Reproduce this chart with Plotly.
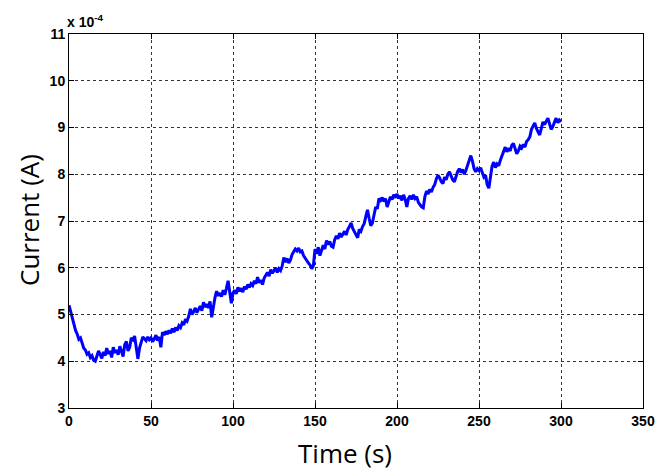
import plotly.graph_objects as go

# Time in seconds (1 s sampling)
time_s = list(range(0, 301))

# Current in units of 1e-4 A
current_e4 = [
    5.20, 5.05, 4.92, 4.78, 4.66, 4.58, 4.47, 4.50, 4.36, 4.28,
    4.24, 4.15, 4.18, 4.08, 4.12, 4.02, 4.00, 4.10, 4.22, 4.14,
    4.06, 4.20, 4.12, 4.28, 4.16, 4.22, 4.08, 4.30, 4.18, 4.24,
    4.14, 4.32, 4.20, 4.10, 4.36, 4.42, 4.22, 4.30, 4.50, 4.46,
    4.54, 4.30, 4.05, 4.28, 4.40, 4.52, 4.48, 4.44, 4.52, 4.46,
    4.50, 4.42, 4.48, 4.56, 4.44, 4.52, 4.30, 4.62, 4.56, 4.64,
    4.58, 4.66, 4.60, 4.70, 4.62, 4.72, 4.66, 4.76, 4.72, 4.82,
    4.78, 4.90, 4.86, 4.96, 5.12, 5.00, 5.06, 5.14, 5.04, 5.10,
    5.18, 5.08, 5.26, 5.16, 5.22, 5.14, 5.28, 4.94, 5.20, 5.36,
    5.50, 5.40, 5.46, 5.38, 5.52, 5.42, 5.56, 5.72, 5.48, 5.24,
    5.46, 5.52, 5.44, 5.58, 5.50, 5.56, 5.48, 5.60, 5.54, 5.64,
    5.58, 5.66, 5.62, 5.72, 5.66, 5.80, 5.68, 5.74, 5.64, 5.78,
    5.84, 5.90, 5.82, 5.96, 5.88, 5.94, 6.00, 5.90, 5.98, 5.94,
    6.04, 6.22, 6.12, 6.20, 6.10, 6.16, 6.28, 6.34, 6.40, 6.36,
    6.42, 6.34, 6.36, 6.26, 6.20, 6.14, 6.10, 6.06, 5.98, 6.04,
    6.40, 6.30, 6.44, 6.26, 6.38, 6.48, 6.40, 6.58, 6.50, 6.56,
    6.46, 6.44, 6.60, 6.68, 6.62, 6.74, 6.66, 6.72, 6.78, 6.70,
    6.82, 6.88, 6.96, 6.84, 6.78, 6.70, 6.64, 6.82, 6.78, 6.88,
    6.94, 7.10, 7.24, 7.06, 6.90, 6.96, 7.12, 7.30, 7.26, 7.48,
    7.44, 7.50, 7.42, 7.48, 7.30, 7.44, 7.52, 7.46, 7.56, 7.50,
    7.58, 7.48, 7.54, 7.44, 7.56, 7.46, 7.30, 7.48, 7.54, 7.46,
    7.56, 7.48, 7.52, 7.40, 7.34, 7.30, 7.28, 7.52, 7.64, 7.58,
    7.68, 7.62, 7.72, 7.78, 7.90, 7.98, 7.92, 7.84, 7.80, 7.94,
    7.88, 8.00, 8.05, 7.96, 7.88, 7.84, 7.98, 8.06, 8.12, 8.04,
    8.10, 8.00, 8.08, 8.18, 8.26, 8.40, 8.28, 8.12, 8.05, 8.12,
    8.08, 8.14, 8.04, 7.94, 7.98, 7.78, 7.70, 7.90, 8.18, 8.26,
    8.14, 8.22, 8.18, 8.30, 8.40, 8.52, 8.58, 8.48, 8.56, 8.50,
    8.62, 8.66, 8.54, 8.44, 8.50, 8.60, 8.56, 8.64, 8.58, 8.70,
    8.74, 8.80, 8.96, 9.04, 9.10, 8.98, 8.90, 8.84, 8.98, 9.12,
    9.06, 9.14, 9.20, 9.08, 8.96, 9.02, 9.12, 9.20, 9.10, 9.16,
    9.12,
]

x_ticks = [0, 50, 100, 150, 200, 250, 300, 350]
y_ticks = [3, 4, 5, 6, 7, 8, 9, 10, 11]

fig = go.Figure()
fig.add_trace(go.Scatter(
    x=time_s, y=current_e4, mode="lines",
    line=dict(color="#0000ff", width=3),
    showlegend=False,
))

tick_font = dict(family="Liberation Sans", size=14, color="black", weight="bold")
axis_common = dict(
    showline=True, linecolor="black", linewidth=1, mirror="ticks",
    ticks="inside", ticklen=5, tickcolor="black", tickwidth=1,
    showgrid=True, gridcolor="#333333", gridwidth=1, griddash="dot",
    zeroline=False, tickfont=tick_font, automargin=False,
)

fig.update_layout(
    width=667, height=471,
    margin=dict(l=69, r=24, t=34, b=63),
    paper_bgcolor="white", plot_bgcolor="white",
    xaxis=dict(range=[0, 350], tickvals=x_ticks,
               ticktext=[str(v) for v in x_ticks], **axis_common),
    yaxis=dict(range=[3, 11], tickvals=y_ticks,
               ticktext=[str(v) for v in y_ticks], **axis_common),
)

title_font = dict(family="Open Sans", size=26, color="black")
# x title
fig.add_annotation(
    xref="paper", yref="paper", x=(345 - 69) / 574, y=0,
    xanchor="center", yanchor="top", yshift=-25,
    text="Time (s)", showarrow=False, font=title_font,
)
# y title
fig.add_annotation(
    xref="paper", yref="paper", x=0, y=(408 - 220) / 374,
    xanchor="center", yanchor="middle", xshift=-40, textangle=-90,
    text="Current (A)", showarrow=False, font=title_font,
)
# exponent label
fig.add_annotation(
    xref="paper", yref="paper", x=0, y=1, xanchor="left", yanchor="bottom",
    text="x 10<sup>-4</sup>", showarrow=False, yshift=2, xshift=-4,
    font=dict(family="Liberation Sans", size=14, color="black", weight="bold"),
)

fig.write_html("out.html", config={"displayModeBar": False},
               post_script="document.body.style.margin='0';")
